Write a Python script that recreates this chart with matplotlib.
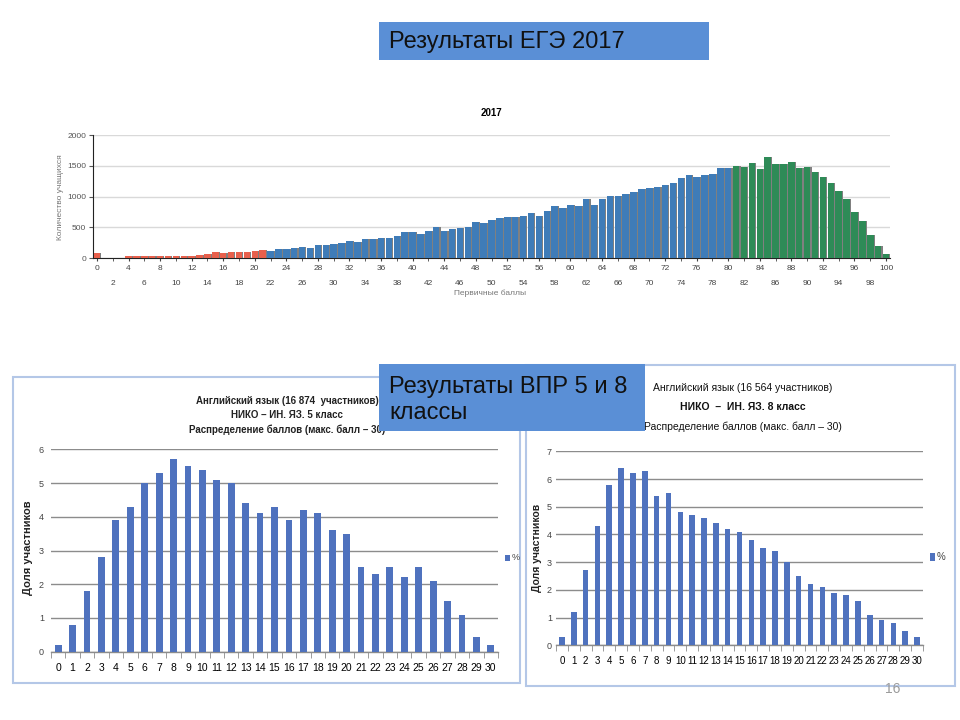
import matplotlib
matplotlib.use("Agg")
import matplotlib.pyplot as plt
from matplotlib.patches import Rectangle
import numpy as np

# ---------------- data ----------------
ege_scores = list(range(0, 101))
ege_counts = [
    78, 0, 0, 0, 32, 30, 30, 30, 30, 30,
    30, 32, 33, 50, 65, 98, 82, 98, 98, 103,
    114, 130, 114, 147, 147, 165, 182, 168, 215, 215,
    235, 250, 280, 263, 315, 315, 331, 331, 360, 423,
    426, 393, 442, 507, 442, 475, 491, 507, 588, 572,
    621, 654, 672, 672, 688, 737, 688, 770, 851, 818,
    867, 851, 965, 867, 965, 1014, 1014, 1046, 1079, 1127,
    1144, 1160, 1192, 1225, 1306, 1355, 1322, 1355, 1371, 1458,
    1469, 1501, 1485, 1550, 1453, 1648, 1534, 1534, 1566, 1469,
    1485, 1404, 1322, 1225, 1095, 965, 753, 607, 379, 200,
    70,
]
ege_fail_max = 21      # red up to this score
ege_high_min = 81      # green from this score

vpr_scores = list(range(0, 31))
vpr5_share = [0.2, 0.8, 1.8, 2.8, 3.9, 4.3, 5.0, 5.3, 5.7, 5.5,
              5.4, 5.1, 5.0, 4.4, 4.1, 4.3, 3.9, 4.2, 4.1, 3.6,
              3.5, 2.5, 2.3, 2.5, 2.2, 2.5, 2.1, 1.5, 1.1, 0.43,
              0.2]
vpr8_share = [0.3, 1.2, 2.7, 4.3, 5.8, 6.4, 6.2, 6.3, 5.4, 5.5,
              4.8, 4.7, 4.6, 4.4, 4.2, 4.1, 3.8, 3.5, 3.4, 3.0,
              2.5, 2.2, 2.1, 1.9, 1.8, 1.6, 1.1, 0.9, 0.8, 0.5,
              0.3]

title_top = "Результаты ЕГЭ 2017"
title_mid = "Результаты ВПР 5 и 8\nклассы"
ege_title = "2017"
ege_ylabel = "Количество учащихся"
ege_xlabel = "Первичные баллы"
vpr5_title = ["Английский язык (16 874  участников)",
              "НИКО – ИН. ЯЗ. 5 класс",
              "Распределение баллов (макс. балл – 30)"]
vpr8_title = ["Английский язык (16 564 участников)",
              "НИКО  –  ИН. ЯЗ. 8 класс",
              "Распределение баллов (макс. балл – 30)"]
vpr_ylabel = "Доля участников"
legend_label = "%"
page_no = "16"

# ---------------- figure ----------------
W, H = 960, 720
fig = plt.figure(figsize=(W / 100, H / 100), dpi=100)
fig.patch.set_facecolor("white")
plt.rcParams['font.family'] = ['Liberation Sans', 'DejaVu Sans']
NARROW = ['Liberation Sans Narrow', 'Liberation Sans', 'DejaVu Sans']


def ax_px(x0, y0, x1, y1):
    """axes from pixel box (top-left origin)"""
    return fig.add_axes([x0 / W, 1 - y1 / H, (x1 - x0) / W, (y1 - y0) / H])


def fx(x):
    return x / W


def fy(y):
    return 1 - y / H


# ---------------- top title box ----------------
fig.patches.append(Rectangle((fx(379), fy(60)), (709 - 379) / W, (60 - 22) / H,
                             transform=fig.transFigure, facecolor="#5a8fd6",
                             edgecolor="none", zorder=10))
fig.text(fx(389), fy(42), title_top, fontsize=17, color="#111111",
         va="center", ha="left", zorder=11)

# ---------------- EGE chart ----------------
ax = ax_px(93, 135, 890, 258)
ax.set_facecolor("none")
colors = []
for s in ege_scores:
    if s <= ege_fail_max:
        colors.append("#e8604c")
    elif s >= ege_high_min:
        colors.append("#2e8b57")
    else:
        colors.append("#3f7cb8")
ax.bar(np.array(ege_scores) + 0.08, ege_counts, width=0.95, color="#808080", zorder=2)
ax.bar(ege_scores, ege_counts, width=0.82, color=colors, zorder=3)
ax.set_xlim(-0.5, 100.5)
ax.set_ylim(0, 2000)
ax.set_yticks([0, 500, 1000, 1500, 2000])
ax.yaxis.grid(True, color="#d9d9d9", linewidth=1, zorder=0)
ax.set_axisbelow(True)
for sp in ["top", "right"]:
    ax.spines[sp].set_visible(False)
ax.spines["left"].set_color("#222222")
ax.spines["bottom"].set_color("#222222")
ax.tick_params(axis="y", labelsize=6, colors="#555555", length=3, pad=2)
ax.set_xticks(list(range(0, 101, 4)))
ax.set_xticks(list(range(2, 101, 4)), minor=True)
ax.set_xticklabels([str(v) for v in range(0, 101, 4)])
ax.set_xticklabels([str(v) for v in range(2, 101, 4)], minor=True)
ax.tick_params(axis="x", which="major", labelsize=6, colors="#444444", length=2, pad=3)
ax.tick_params(axis="x", which="minor", labelsize=6, colors="#444444", length=2, pad=14)
ax.set_title(ege_title, fontsize=7, fontweight="bold", pad=14)
fig.text(fx(490), fy(293), ege_xlabel, fontsize=6, color="#777777", ha="center", va="center")
fig.text(fx(61), fy(197), ege_ylabel, fontsize=6, color="#777777", ha="center",
         va="center", rotation=90)

# ---------------- panel frames ----------------
fig.patches.append(Rectangle((fx(13), fy(683)), (520 - 13) / W, (683 - 377) / H,
                             transform=fig.transFigure, facecolor="white",
                             edgecolor="#b4c7e7", linewidth=1.5, zorder=-2))
fig.patches.append(Rectangle((fx(526), fy(686)), (955 - 526) / W, (686 - 365) / H,
                             transform=fig.transFigure, facecolor="white",
                             edgecolor="#b4c7e7", linewidth=1.5, zorder=-1))

BAR = "#4f72be"


def vpr_axes(axv, values, ymax):
    axv.set_facecolor("none")
    axv.bar(vpr_scores, values, width=0.47, color=BAR, zorder=3)
    axv.set_xlim(-0.5, 30.5)
    axv.set_ylim(0, ymax)
    axv.set_yticks(list(range(0, ymax + 1)))
    axv.yaxis.grid(True, color="#8c8c8c", linewidth=1.0, zorder=0)
    axv.set_axisbelow(True)
    for sp in ["top", "right", "left"]:
        axv.spines[sp].set_visible(False)
    axv.spines["bottom"].set_color("#8c8c8c")
    axv.spines["bottom"].set_linewidth(1.0)
    axv.set_xticks(vpr_scores)
    axv.set_xticks(np.arange(-0.5, 31, 1), minor=True)
    axv.tick_params(axis="x", which="major", length=0, pad=8, labelsize=7.5)
    axv.tick_params(axis="x", which="minor", length=4, color="#8c8c8c")
    axv.tick_params(axis="y", length=0, pad=5, labelsize=6.5, colors="#444444")
    for lab in axv.get_xticklabels() + axv.get_yticklabels():
        lab.set_family(NARROW)


# left VPR (5 класс)
ax5 = ax_px(51, 449.3, 498, 651.7)
vpr_axes(ax5, vpr5_share, 6)
for i, line in enumerate(vpr5_title):
    fig.text(fx(287), fy(401 + i * 14.5), line, fontsize=7, fontweight="bold",
             ha="center", va="center", family=NARROW, color="#222222")
fig.text(fx(28), fy(548), vpr_ylabel, fontsize=8, fontweight="bold", rotation=90,
         ha="center", va="center", color="#222222")
fig.patches.append(Rectangle((fx(505), fy(561)), 5 / W, 6 / H, transform=fig.transFigure,
                             facecolor=BAR, edgecolor="none", zorder=5))
fig.text(fx(512), fy(558), legend_label, fontsize=6.5, ha="left", va="center",
         family=NARROW, color="#444444")

# right VPR (8 класс)
ax8 = ax_px(556, 451.3, 923, 645.3)
vpr_axes(ax8, vpr8_share, 7)
ax8.tick_params(axis="x", which="major", labelsize=7, pad=8)
ax8.tick_params(axis="y", pad=3)
for lab in ax8.get_xticklabels():
    lab.set_family(NARROW)
for i, line in enumerate(vpr8_title):
    fig.text(fx(743), fy(388 + i * 19.5), line, fontsize=7.5,
             fontweight="bold" if i == 1 else "normal",
             ha="center", va="center", family=NARROW, color="#111111")
fig.text(fx(537), fy(548), vpr_ylabel, fontsize=7.5, fontweight="bold", rotation=90,
         ha="center", va="center", color="#222222")
fig.patches.append(Rectangle((fx(930), fy(561)), 5 / W, 8 / H, transform=fig.transFigure,
                             facecolor=BAR, edgecolor="none", zorder=5))
fig.text(fx(937), fy(557), legend_label, fontsize=7, ha="left", va="center",
         family=NARROW, color="#444444")

# ---------------- middle title box ----------------
fig.patches.append(Rectangle((fx(379), fy(431)), (645 - 379) / W, (431 - 364) / H,
                             transform=fig.transFigure, facecolor="#5a8fd6",
                             edgecolor="none", zorder=10))
fig.text(fx(389), fy(400), title_mid, fontsize=17, color="#111111",
         va="center", ha="left", zorder=11, linespacing=1.22)

fig.text(fx(893), fy(689), page_no, fontsize=10, color="#9a9a9a", ha="center", va="center")

fig.savefig("out.png", dpi=100, facecolor="white")
